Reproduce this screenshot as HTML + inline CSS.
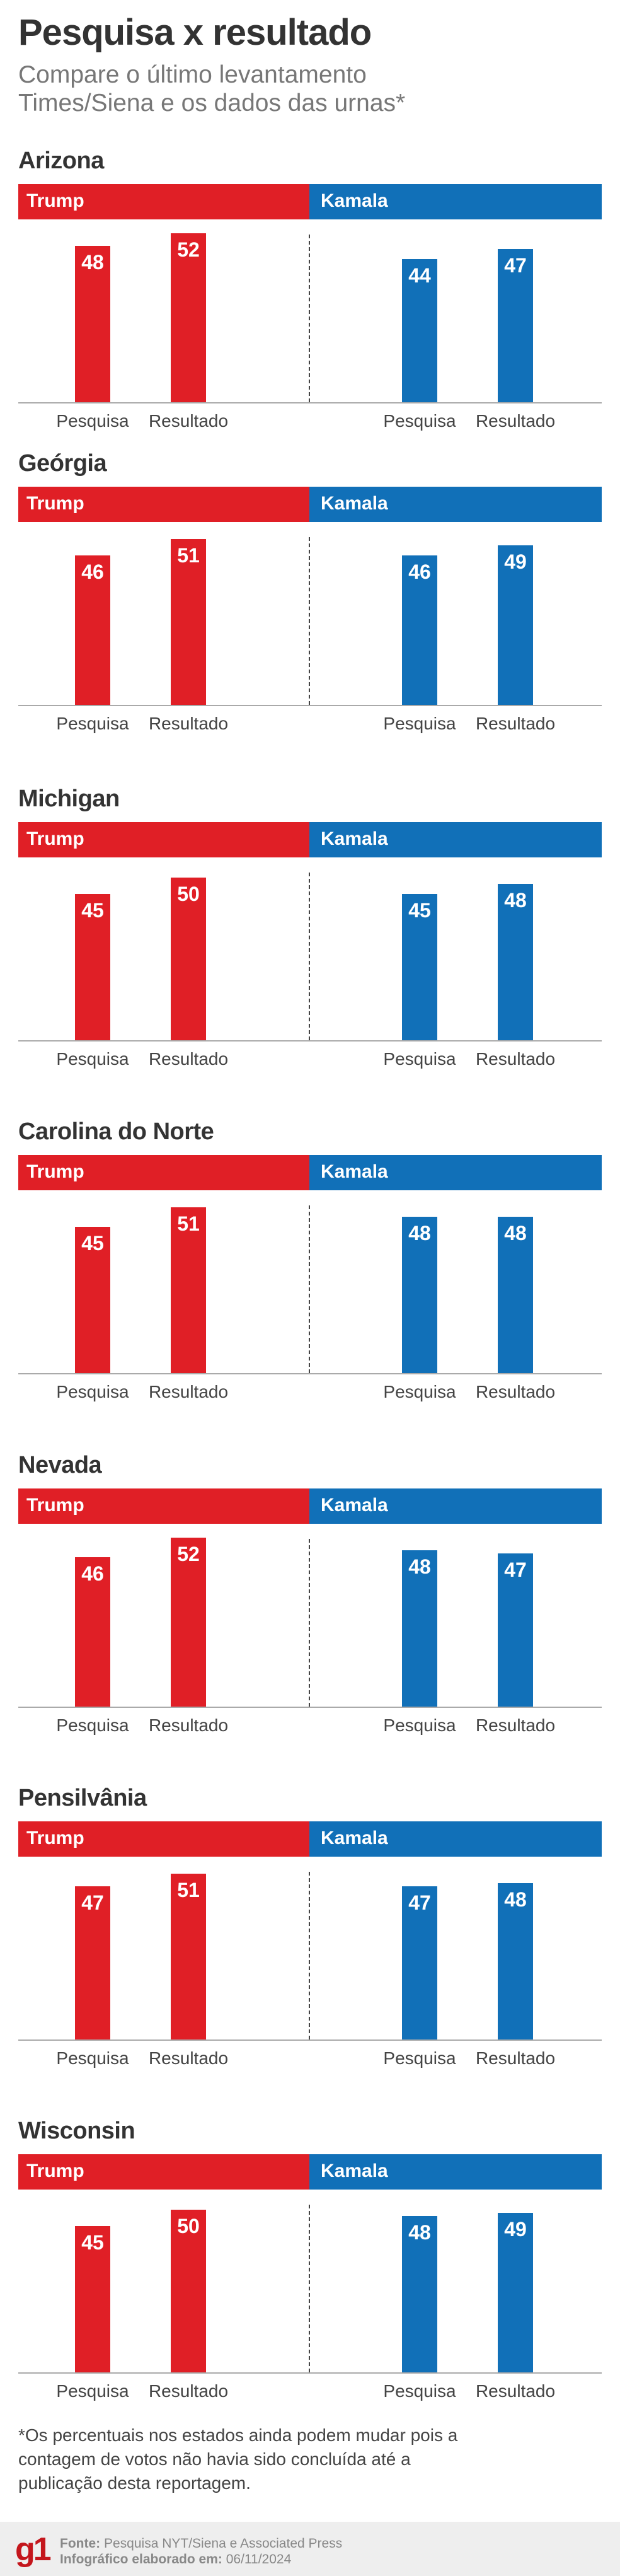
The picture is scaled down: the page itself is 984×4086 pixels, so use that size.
<!DOCTYPE html>
<html><head><meta charset="utf-8">
<style>
*{margin:0;padding:0;box-sizing:border-box}
body{width:984px;height:4086px;background:#fff;position:relative;font-family:"Liberation Sans",sans-serif;overflow:hidden}
.a{position:absolute}
.t{left:29px;top:18px;font-size:58px;font-weight:bold;color:#333;letter-spacing:-1px}
.s{left:29px;top:96px;font-size:39px;color:#777;line-height:45px}
.st{font-size:38px;font-weight:bold;color:#333;left:29px;letter-spacing:-0.5px}
.hr{left:29px;width:462px;height:56px;background:#e01f26;color:#fff;font-weight:bold;font-size:30px;padding:10px 0 0 13px}
.hb{left:491px;width:464px;height:56px;background:#1170b8;color:#fff;font-weight:bold;font-size:30px;padding:10px 0 0 18px}
.bar{width:56px;text-align:center;color:#fff;font-weight:bold;font-size:32px;padding-top:8px}
.r{background:#e01f26}.b{background:#1170b8}
.base{left:29px;width:926px;height:2px;background:#aaa}
.dash{left:490px;width:0;border-left:2px dashed #444}
.lb{font-size:28px;color:#444;width:140px;text-align:center}
.fn{left:29px;top:3844px;font-size:28px;color:#444;line-height:38px}
.ft{left:0;top:4000px;width:984px;height:86px;background:#eee}
</style></head><body>
<div class="a t">Pesquisa x resultado</div>
<div class="a s">Compare o último levantamento<br>Times/Siena e os dados das urnas*</div>
<div id="c"></div>
<div class="a fn">*Os percentuais nos estados ainda podem mudar pois a<br>contagem de votos não havia sido concluída até a<br>publicação desta reportagem.</div>
<div class="a ft">
<div class="a" style="left:24px;top:14px;font-size:52px;font-weight:bold;color:#c4161c;letter-spacing:-3px">g1</div>
<div class="a" style="left:95px;top:22px;font-size:21px;color:#888;line-height:25px"><b>Fonte:</b> Pesquisa NYT/Siena e Associated Press<br><b>Infográfico elaborado em:</b> 06/11/2024</div>
</div>
<script>
var d=[["Arizona",292,[48,52,44,47]],["Geórgia",772,[46,51,46,49]],["Michigan",1304,[45,50,45,48]],["Carolina do Norte",1832,[45,51,48,48]],["Nevada",2361,[46,52,48,47]],["Pensilvânia",2889,[47,51,47,48]],["Wisconsin",3417,[45,50,48,49]]];
var xs=[119,271,638,790],h="";
d.forEach(function(s){var top=s[1],base=top+346;
h+='<div class="a st" style="top:'+(top-58)+'px">'+s[0]+'</div>';
h+='<div class="a hr" style="top:'+top+'px">Trump</div><div class="a hb" style="top:'+top+'px">Kamala</div>';
h+='<div class="a dash" style="top:'+(top+80)+'px;height:'+(base-top-80)+'px"></div>';
s[2].forEach(function(v,i){var bh=Math.round(v*5.16);
h+='<div class="a bar '+(i<2?'r':'b')+'" style="left:'+xs[i]+'px;top:'+(base-bh)+'px;height:'+bh+'px">'+v+'</div>';
h+='<div class="a lb" style="left:'+(xs[i]-42)+'px;top:'+(base+14)+'px">'+(i%2?'Resultado':'Pesquisa')+'</div>';});
h+='<div class="a base" style="top:'+base+'px"></div>';});
document.getElementById('c').innerHTML=h;
</script>
</body></html>
